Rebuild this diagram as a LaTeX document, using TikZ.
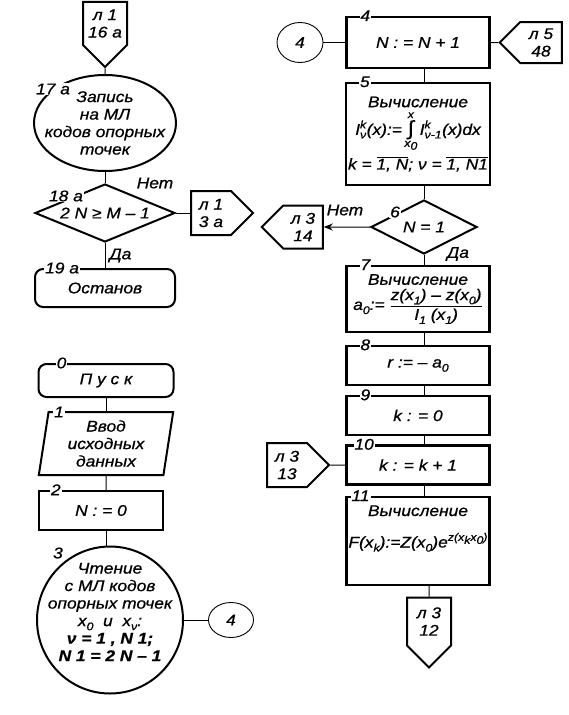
\documentclass[tikz,border=0pt]{standalone}
\usepackage{fontspec}
\setmainfont{Liberation Sans}[FakeStretch=1.12, FakeBold=0.8]
\usetikzlibrary{arrows.meta,positioning,shapes.geometric,shapes.symbols}
\newcommand{\fc}{\fontsize{15.5}{17.5}\selectfont\itshape}
\newcommand{\su}[1]{\mbox{\fontsize{11}{11}\selectfont #1}}
\newcommand{\lo}[1]{\raisebox{-0.5ex}{\fontsize{11}{11}\selectfont #1}}
\newcommand{\hi}[1]{\raisebox{0.8ex}{\fontsize{11}{11}\selectfont #1}}
\tikzset{
  blk/.style={rectangle, draw, line width=2.4pt, minimum width=143, align=center,
              inner sep=2pt, font=\fc},
  term/.style={rectangle, draw, rounded corners=8pt, line width=2pt, align=center, font=\fc},
  par/.style={trapezium, draw, line width=2pt, trapezium left angle=82, trapezium right angle=98,
              trapezium stretches=true, align=center, inner sep=0pt, font=\fc},
  decide/.style={diamond, draw, line width=2pt, inner sep=1pt, font=\fc},
  bigoval/.style={ellipse, draw, line width=2pt, inner sep=0pt},
  link/.style={ellipse, draw, line width=0.9pt, inner sep=0pt, font=\fc},
  conn/.style={signal, draw, line width=2pt, signal pointer angle=90, align=center,
               inner sep=1pt, font=\fc},
  numlbl/.style={fill=white, inner sep=1pt, font=\fc},
  lbl/.style={inner sep=1pt, font=\fc},
  wire/.style={line width=1pt},
}
\begin{document}
\begin{tikzpicture}[x=1pt, y=-1pt]
\useasboundingbox (0,0) rectangle (569,715);

% upper left: end of the sheet
\node[conn, signal to=south, minimum width=44, minimum height=61] (p16) at (105,23.5) {л 1\\16 а};
\node[bigoval, minimum width=142, minimum height=96] (e17) at (105,123) {};
\node[font=\fc, align=center] at (e17) {Запись\\на МЛ\\кодов опорных\\точек};
\node[decide, aspect=2.4, minimum width=140, minimum height=58] (d18) at (105,213) {2 N ≥ M – 1};
\node[conn, signal to=east, minimum width=62, minimum height=44] (p3a) at (211,213) {л 1\\3 а};
\node[term, minimum width=140, minimum height=38] (t19) at (105,288) {Останов};

\draw[wire] (p16) -- (e17);
\draw[wire] (e17) -- (d18);
\draw[wire] (d18) -- (p3a);
\draw[wire] (d18) -- (t19) node[lbl, midway, right=3pt] {Да};
\node[lbl] at (155,183) {Нет};

\node[numlbl] at (53,89) {17 а};
\node[numlbl] at (66,196) {18 а};
\node[numlbl, right=10pt of t19.north west] {19 а};

% lower left: start
\node[term, minimum width=135, minimum height=33] (t0) at (106,380.5) {П у с к};
\node[par, minimum width=135, minimum height=63] (par1) at (106,443.5) {Ввод\\исходных\\данных};
\node[blk, minimum width=124, minimum height=39] (b2) at (101,510.5) {N : = 0};
\node[bigoval, minimum width=146, minimum height=147] (c3) at (110,620) {};
\node[font=\fc, align=center] at (110,612) {Чтение\\с МЛ кодов\\опорных точек\\
  x\lo{0}\ \ и\ \ x\lo{ν}:\\{\bfseries ν = 1 , N 1;}\\{\bfseries N 1 = 2 N – 1}};
\node[link, minimum width=45, minimum height=35] (c4b) at (231,620) {4};

\draw[wire] (t0) -- (par1);
\draw[wire] (par1) -- (b2.north -| par1);
\draw[wire] (b2.south -| par1) -- (c3.north -| par1);
\draw[wire] (c3) -- (c4b);

\node[numlbl, right=18pt of t0.north west] {0};
\node[numlbl] at (59,412) {1};
\node[numlbl, right=12pt of b2.north west] {2};
\node[numlbl] at (58,553) {3};

% right column
\node[link, minimum width=46, minimum height=40] (c4a) at (300,42.5) {4};
\node[blk, minimum height=51] (b4) at (418,42.5) {N : = N + 1};
\node[conn, signal to=west, minimum width=62, minimum height=41] (p48) at (541,42.5) {л 5\\48};
\node[blk, minimum height=102] (b5) at (418,134) {Вычисление\\[3pt]
  $\mbox{I}^{\su{k}}_{\su{ν}}\mbox{(x):=}\mathop{\mbox{\fontsize{20}{20}\selectfont ∫}}\limits^{\su{x}}_{\su{x\lo{0}}}
   \mbox{I}^{\su{k}}_{\su{ν-1}}\mbox{(x)dx}$\\[5pt]
  k = $\overline{\mbox{1, N}}$;\ ν = $\overline{\mbox{1, N1}}$};
\node[decide, aspect=2, minimum width=106, minimum height=54] (d6) at (424,227) {N = 1};
\node[conn, signal to=west, minimum width=61, minimum height=43] (p14) at (303,227) {л 3\\14};
\node[blk, minimum height=66] (b7) at (418,299) {Вычисление\\[3pt]
  a\lo{0}:= $\displaystyle\frac{\mbox{z(x\lo{1}) – z(x\lo{0})}}{\mbox{I\lo{1} (x\lo{1})}}$};
\node[blk, minimum height=39] (b8) at (418,365.5) {r := – a\lo{0}};
\node[blk, minimum height=39] (b9) at (418,415.5) {k : = 0};
\node[blk, minimum height=39] (b10) at (418,465) {k : = k + 1};
\node[conn, signal to=east, minimum width=62, minimum height=44] (p13) at (287,465) {л 3\\13};
\node[blk, minimum height=88] (b11) at (418,541) {};
\node[font=\fc, align=center, below=6pt of b11.north] {Вычисление\\[14pt]
  F(x\lo{k}):=Z(x\lo{0})e\hi{z(x\lo{k}x\lo{0})}};
\node[conn, signal to=south, minimum width=44, minimum height=61] (p12) at (429,621.5) {л 3\\12};

\draw[wire] (c4a) -- (b4);
\draw[wire] (b4) -- (p48);
\draw[wire] (b4.south -| d6) -- (b5.north -| d6);
\draw[wire] (b5.south -| d6) -- (d6);
\draw[wire, -{Stealth[length=9pt, width=7pt]}] (d6) -- (p14);
\draw[wire] (d6) -- (b7.north -| d6);
\draw[wire] (b7.south -| d6) -- (b8.north -| d6);
\draw[wire] (b8.south -| d6) -- (b9.north -| d6);
\draw[wire] (b9.south -| d6) -- (b10.north -| d6);
\draw[wire] (b10.south -| d6) -- (b11.north -| d6);
\draw[wire] (p13) -- (b10);
\draw[wire] (b11.south -| p12) -- (p12);
\node[lbl] at (345,210) {Нет};
\node[lbl] at (458,254) {Да};

\node[numlbl, right=14pt of b4.north west] {4};
\node[numlbl, right=14pt of b5.north west] {5};
\node[numlbl] at (395,212) {6};
\node[numlbl, right=14pt of b7.north west] {7};
\node[numlbl, right=14pt of b8.north west] {8};
\node[numlbl, right=14pt of b9.north west] {9};
\node[numlbl, right=8pt of b10.north west] {10};
\node[numlbl, right=5pt of b11.north west] {11};
\end{tikzpicture}
\end{document}
